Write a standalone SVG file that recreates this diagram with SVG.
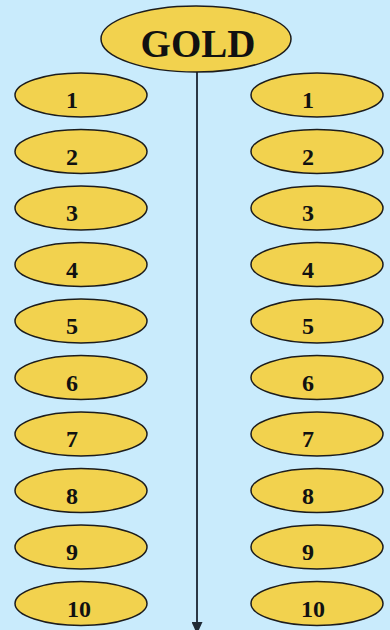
<svg xmlns="http://www.w3.org/2000/svg" width="390" height="630" viewBox="0 0 390 630">
<style>
.n ellipse{fill:#f2d24e;stroke:#1c1c1c;stroke-width:1.5}
.n text{font-family:"Liberation Serif",serif;font-weight:bold;font-size:24px;fill:#111;text-anchor:middle}
</style>
<defs>
<marker id="ah" markerWidth="12" markerHeight="11" refX="12" refY="5.5" orient="auto" markerUnits="userSpaceOnUse" viewBox="0 0 12 11">
<path d="M0,0 L12,5.5 L0,11 Z" fill="#1f2a35"/>
</marker>
</defs>
<rect width="390" height="630" fill="#c9ebfc"/>
<g id="connectors">
<line x1="197" y1="72" x2="197" y2="634" stroke="#2a3745" stroke-width="2" marker-end="url(#ah)"/>
</g>
<g id="gold" class="n">
<ellipse cx="196" cy="39" rx="95" ry="33"/>
<text x="198" y="57" style="font-size:39px">GOLD</text>
</g>
<g id="L1" class="n"><ellipse cx="81" cy="95" rx="66" ry="22"/><text x="72" y="108">1</text></g>
<g id="L2" class="n"><ellipse cx="81" cy="151.5" rx="66" ry="22"/><text x="72" y="164.5">2</text></g>
<g id="L3" class="n"><ellipse cx="81" cy="208" rx="66" ry="22"/><text x="72" y="221">3</text></g>
<g id="L4" class="n"><ellipse cx="81" cy="264.5" rx="66" ry="22"/><text x="72" y="277.5">4</text></g>
<g id="L5" class="n"><ellipse cx="81" cy="321" rx="66" ry="22"/><text x="72" y="334">5</text></g>
<g id="L6" class="n"><ellipse cx="81" cy="377.5" rx="66" ry="22"/><text x="72" y="390.5">6</text></g>
<g id="L7" class="n"><ellipse cx="81" cy="434" rx="66" ry="22"/><text x="72" y="447">7</text></g>
<g id="L8" class="n"><ellipse cx="81" cy="490.5" rx="66" ry="22"/><text x="72" y="503.5">8</text></g>
<g id="L9" class="n"><ellipse cx="81" cy="547" rx="66" ry="22"/><text x="72" y="560">9</text></g>
<g id="L10" class="n"><ellipse cx="81" cy="603.5" rx="66" ry="22"/><text x="79" y="616.5">10</text></g>
<g id="R1" class="n"><ellipse cx="317" cy="95" rx="66" ry="22"/><text x="308" y="108">1</text></g>
<g id="R2" class="n"><ellipse cx="317" cy="151.5" rx="66" ry="22"/><text x="308" y="164.5">2</text></g>
<g id="R3" class="n"><ellipse cx="317" cy="208" rx="66" ry="22"/><text x="308" y="221">3</text></g>
<g id="R4" class="n"><ellipse cx="317" cy="264.5" rx="66" ry="22"/><text x="308" y="277.5">4</text></g>
<g id="R5" class="n"><ellipse cx="317" cy="321" rx="66" ry="22"/><text x="308" y="334">5</text></g>
<g id="R6" class="n"><ellipse cx="317" cy="377.5" rx="66" ry="22"/><text x="308" y="390.5">6</text></g>
<g id="R7" class="n"><ellipse cx="317" cy="434" rx="66" ry="22"/><text x="308" y="447">7</text></g>
<g id="R8" class="n"><ellipse cx="317" cy="490.5" rx="66" ry="22"/><text x="308" y="503.5">8</text></g>
<g id="R9" class="n"><ellipse cx="317" cy="547" rx="66" ry="22"/><text x="308" y="560">9</text></g>
<g id="R10" class="n"><ellipse cx="317" cy="603.5" rx="66" ry="22"/><text x="313" y="616.5">10</text></g>
</svg>
